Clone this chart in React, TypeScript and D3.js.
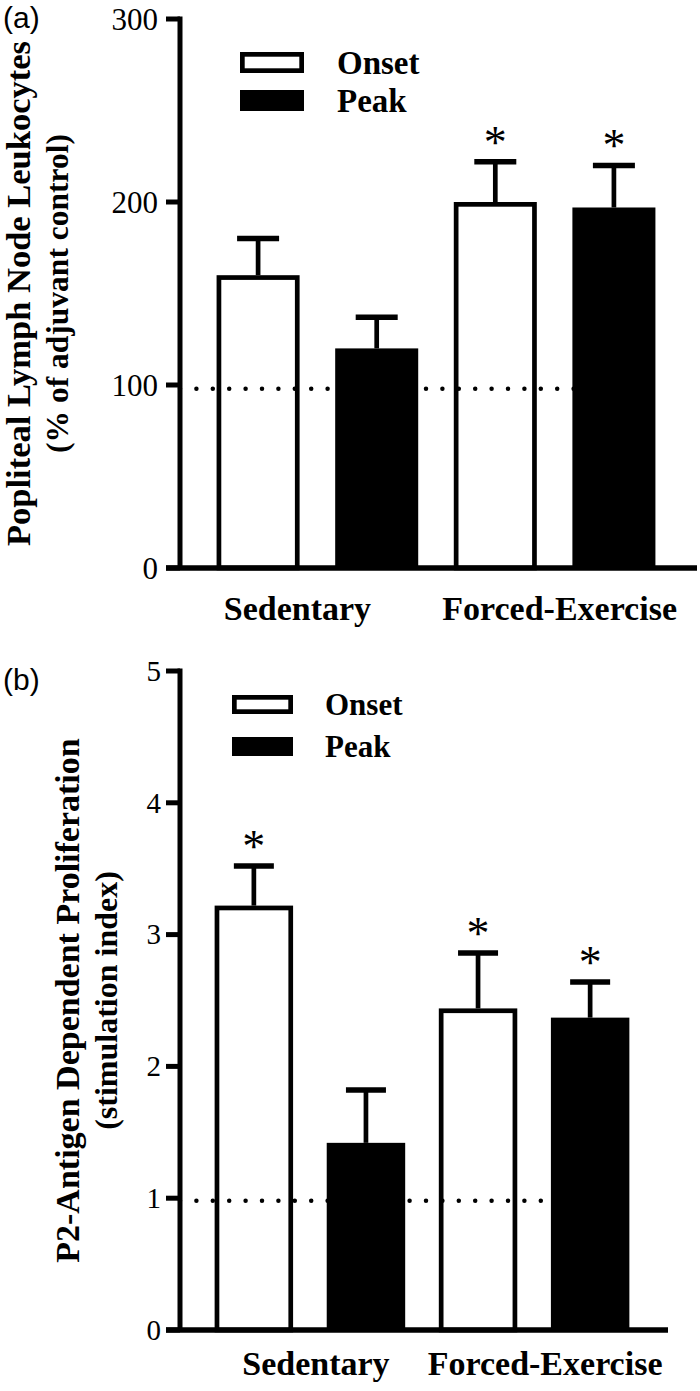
import React from "react";
import * as d3 from "d3";

// ---------- data ----------
const categories = ["Sedentary", "Forced-Exercise"];
const seriesNames = ["Onset", "Peak"];

// order: Sedentary-Onset, Sedentary-Peak, Forced-Onset, Forced-Peak
const leukoMeans = [160, 120, 200, 197];
const leukoErrors = [20, 17, 22, 23];
const leukoSignificant = [false, false, true, true];
const leukoTicks = [0, 100, 200, 300];
const leukoReference = 98;

const prolifMeans = [3.22, 1.42, 2.44, 2.37];
const prolifErrors = [0.3, 0.4, 0.42, 0.27];
const prolifSignificant = [true, false, true, true];
const prolifTicks = [0, 1, 2, 3, 4, 5];
const prolifReference = 0.98;

const SERIF = "'Liberation Serif', 'Times New Roman', Times, serif";
const SANS = "'Liberation Sans', Arial, Helvetica, sans-serif";

type PanelCfg = {
  letter: string;
  letterY: number;
  means: number[];
  errors: number[];
  sig: boolean[];
  ticks: number[];
  reference: number;
  yTitle: string[];
  yTitleX: number[];
  yTitleFont: number[];
  yRange: [number, number];
  xRange: [number, number];
  axisX: number;
  baseEnd: number;
  tickFont: number;
  tickRight: number;
  catDx: number[];
  catBaseline: number;
  legendX: [number, number];
  legendY: number[];
  legendH: number;
  legendTextX: number;
  legendFont: number;
  capHalf: number;
};

const panels: PanelCfg[] = [
  {
    letter: "(a)",
    letterY: 28,
    means: leukoMeans,
    errors: leukoErrors,
    sig: leukoSignificant,
    ticks: leukoTicks,
    reference: leukoReference,
    yTitle: ["Popliteal Lymph Node Leukocytes", "(% of adjuvant control)"],
    yTitleX: [30, 68],
    yTitleFont: [34.5, 31.5],
    yRange: [568, 19],
    xRange: [181, 691],
    axisX: 180,
    baseEnd: 697,
    tickFont: 31,
    tickRight: 158,
    catDx: [-20, 5],
    catBaseline: 620,
    legendX: [240, 304],
    legendY: [52, 90],
    legendH: 21,
    legendTextX: 337,
    legendFont: 33,
    capHalf: 21,
  },
  {
    letter: "(b)",
    letterY: 690,
    means: prolifMeans,
    errors: prolifErrors,
    sig: prolifSignificant,
    ticks: prolifTicks,
    reference: prolifReference,
    yTitle: ["P2-Antigen Dependent Proliferation", "(stimulation index)"],
    yTitleX: [79, 117],
    yTitleFont: [34, 32],
    yRange: [1330, 671],
    xRange: [181, 663],
    axisX: 180,
    baseEnd: 668,
    tickFont: 29,
    tickRight: 161,
    catDx: [6, 11],
    catBaseline: 1375,
    legendX: [232, 293],
    legendY: [695, 737],
    legendH: 19,
    legendTextX: 325,
    legendFont: 31,
    capHalf: 20,
  },
];

const SW = 4.7; // outline / error bar stroke

function Panel({ cfg }: { cfg: PanelCfg }) {
  const keys: string[] = [];
  categories.forEach((c) => seriesNames.forEach((s) => keys.push(c + "|" + s)));

  const x = d3.scaleBand<string>().domain(keys).range(cfg.xRange).padding(0.3);
  const y = d3
    .scaleLinear()
    .domain([cfg.ticks[0], cfg.ticks[cfg.ticks.length - 1]])
    .range(cfg.yRange);

  const bw = x.bandwidth();
  const y0 = y(0);
  const yTop = y(cfg.ticks[cfg.ticks.length - 1]);
  const titleCenter = (y0 + yTop) / 2;
  const lastKey = keys[keys.length - 1];

  const bars = keys.map((k, i) => {
    const isOnset = k.endsWith("|Onset");
    const x0 = x(k)!;
    const cx = x0 + bw / 2;
    const top = y(cfg.means[i]);
    const capY = y(cfg.means[i] + cfg.errors[i]);
    return { k, i, isOnset, x0, cx, top, capY };
  });

  return (
    <g>
      {/* panel letter */}
      <text x={3} y={cfg.letterY} fontFamily={SANS} fontSize={30} fill="#000">
        {cfg.letter}
      </text>

      {/* y title */}
      {cfg.yTitle.map((t, j) => (
        <text
          key={j}
          transform={`translate(${cfg.yTitleX[j]},${titleCenter}) rotate(-90)`}
          textAnchor="middle"
          fontFamily={SERIF}
          fontWeight="bold"
          fontSize={cfg.yTitleFont[j]}
          fill="#000"
        >
          {t}
        </text>
      ))}

      {/* error bars */}
      {bars.map((b) => (
        <g key={"e" + b.k}>
          <line x1={b.cx} x2={b.cx} y1={b.top} y2={b.capY} stroke="#000" strokeWidth={SW} />
          <line
            x1={b.cx - cfg.capHalf}
            x2={b.cx + cfg.capHalf}
            y1={b.capY}
            y2={b.capY}
            stroke="#000"
            strokeWidth={5.5}
          />
        </g>
      ))}

      {/* bars */}
      {bars.map((b) =>
        b.isOnset ? (
          <rect
            key={"b" + b.k}
            x={b.x0 + SW / 2}
            y={b.top + SW / 2}
            width={bw - SW}
            height={y0 - b.top - SW / 2}
            fill="#fff"
            stroke="#000"
            strokeWidth={SW}
          />
        ) : (
          <rect key={"b" + b.k} x={b.x0} y={b.top} width={bw} height={y0 - b.top} fill="#000" />
        )
      )}

      {/* reference dotted line */}
      <line
        x1={cfg.axisX}
        x2={x(lastKey)! + bw}
        y1={y(cfg.reference)}
        y2={y(cfg.reference)}
        stroke="#000"
        strokeWidth={4.5}
        strokeLinecap="round"
        strokeDasharray="0 16.4"
      />

      {/* significance */}
      {bars.map((b) =>
        cfg.sig[b.i] ? (
          <text
            key={"s" + b.k}
            x={b.cx}
            y={b.capY - 25 + 21}
            textAnchor="middle"
            fontFamily={SERIF}
            fontSize={46}
            fill="#000"
          >
            *
          </text>
        ) : null
      )}

      {/* axes */}
      <line x1={cfg.axisX} x2={cfg.axisX} y1={yTop - 2.5} y2={y0} stroke="#000" strokeWidth={5} />
      <line x1={166} x2={cfg.baseEnd} y1={y0} y2={y0} stroke="#000" strokeWidth={5.5} />
      {cfg.ticks.map((t) => (
        <g key={"t" + t}>
          <line x1={166} x2={cfg.axisX} y1={y(t)} y2={y(t)} stroke="#000" strokeWidth={5} />
          <text
            x={cfg.tickRight}
            y={y(t) + cfg.tickFont * 0.34}
            textAnchor="end"
            fontFamily={SERIF}
            fontSize={cfg.tickFont}
            fill="#000"
          >
            {t}
          </text>
        </g>
      ))}

      {/* category labels */}
      {categories.map((c, j) => {
        const a = x(c + "|" + seriesNames[0])!;
        const bb = x(c + "|" + seriesNames[seriesNames.length - 1])! + bw;
        return (
          <text
            key={"c" + c}
            x={(a + bb) / 2 + cfg.catDx[j]}
            y={cfg.catBaseline}
            textAnchor="middle"
            fontFamily={SERIF}
            fontWeight="bold"
            fontSize={34}
            fill="#000"
          >
            {c}
          </text>
        );
      })}

      {/* legend */}
      {seriesNames.map((s, j) => (
        <g key={"l" + s}>
          {j === 0 ? (
            <rect
              x={cfg.legendX[0] + SW / 2}
              y={cfg.legendY[j] + SW / 2}
              width={cfg.legendX[1] - cfg.legendX[0] - SW}
              height={cfg.legendH - SW}
              fill="#fff"
              stroke="#000"
              strokeWidth={SW}
            />
          ) : (
            <rect
              x={cfg.legendX[0]}
              y={cfg.legendY[j]}
              width={cfg.legendX[1] - cfg.legendX[0]}
              height={cfg.legendH}
              fill="#000"
            />
          )}
          <text
            x={cfg.legendTextX}
            y={cfg.legendY[j] + cfg.legendH + 1}
            fontFamily={SERIF}
            fontWeight="bold"
            fontSize={cfg.legendFont}
            fill="#000"
          >
            {s}
          </text>
        </g>
      ))}
    </g>
  );
}

export default function App() {
  return (
    <svg
      width={700}
      height={1391}
      viewBox="0 0 700 1391"
      style={{ position: "absolute", left: 0, top: 0, background: "#fff" }}
    >
      <rect x={0} y={0} width={700} height={1391} fill="#fff" />
      {panels.map((p, i) => (
        <Panel key={i} cfg={p} />
      ))}
    </svg>
  );
}
